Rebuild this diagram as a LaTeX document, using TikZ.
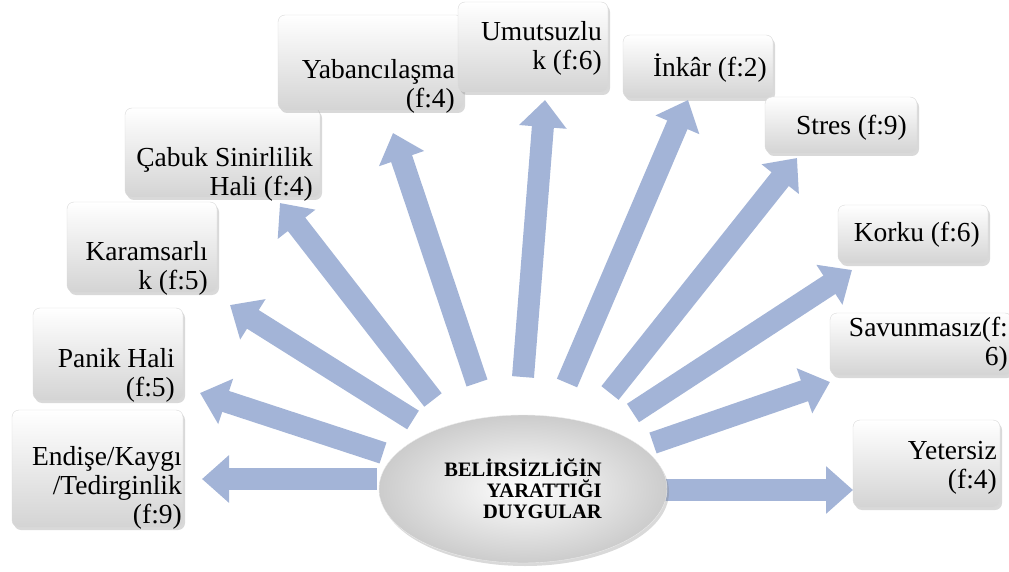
\documentclass[tikz,border=0pt]{standalone}
\usepackage{fontspec}
\setmainfont{Liberation Serif}
\usetikzlibrary{arrows.meta, shadows, shapes.geometric}

\definecolor{arrowblue}{RGB}{163,180,215}
\definecolor{boxgray}{RGB}{212,212,212}

\tikzset{
  box/.style={rectangle, rounded corners=7pt, draw=black!15, top color=white, bottom color=boxgray,
    drop shadow={opacity=0.3, shadow xshift=2pt, shadow yshift=-3pt}, inner sep=0pt},
  lbl/.style={anchor=east, inner sep=0pt, align=right, font=\fontsize{27.5}{29}\selectfont},
  blockarrow/.style={draw=arrowblue, line width=22pt, -{Triangle[width=46pt, length=27pt]}},
}

\begin{document}
\begin{tikzpicture}[x=1pt, y=-1pt]
  \useasboundingbox (0,0) rectangle (1009,572);

  % the eleven boxes
  \node (endise)   [box, minimum width=171pt, minimum height=117pt] at (97.5,468.5) {};
  \node (panik)    [box, minimum width=150pt, minimum height=92pt]  at (108,354) {};
  \node (karamsar) [box, minimum width=150pt, minimum height=90pt]  at (142,247) {};
  \node (cabuk)    [box, minimum width=195pt, minimum height=89pt]  at (222.5,152.5) {};
  \node (yabanci)  [box, minimum width=185pt, minimum height=95pt]  at (370.5,62.5) {};
  \node (umutsuz)  [box, minimum width=150pt, minimum height=90pt]  at (533,47) {};
  \node (inkar)    [box, minimum width=150pt, minimum height=63pt]  at (698,66.5) {};
  \node (stres)    [box, minimum width=152pt, minimum height=56pt]  at (841,125) {};
  \node (korku)    [box, minimum width=150pt, minimum height=58pt]  at (913,234) {};
  \node (savunma)  [box, minimum width=182pt, minimum height=62pt]  at (921,344) {};
  \node (yetersiz) [box, minimum width=147pt, minimum height=87pt]  at (926.5,463.5) {};

  % their texts
  \node (endise-txt)   [lbl] at (182,488)   {Endişe/Kaygı\\/Tedirginlik\\(f:9)};
  \node (panik-txt)    [lbl] at (175,375)   {Panik Hali\\(f:5)};
  \node (karamsar-txt) [lbl] at (208,268)   {Karamsarlı\\k (f:5)};
  \node (cabuk-txt)    [lbl] at (313,174)   {Çabuk Sinirlilik\\Hali (f:4)};
  \node (yabanci-txt)  [lbl] at (455,86)    {Yabancılaşma\\(f:4)};
  \node (umutsuz-txt)  [lbl] at (602,48)    {Umutsuzlu\\k (f:6)};
  \node (inkar-txt)    [lbl] at (767,68.5)  {İnkâr (f:2)};
  \node (stres-txt)    [lbl] at (907,127.5) {Stres (f:9)};
  \node (korku-txt)    [lbl] at (980,235)   {Korku (f:6)};
  \node (savunma-txt)  [lbl] at (1008,344)  {Savunmasız(f:\\6)};
  \node (yetersiz-txt) [lbl] at (997,467.5) {Yetersiz\\(f:4)};

  % tails and tips of the arrows
  \coordinate (endise-a)   at (377,479);  \coordinate (endise-b)   at (202,479);
  \coordinate (panik-a)    at (383,453);  \coordinate (panik-b)    at (200,393);
  \coordinate (karamsar-a) at (413,420);  \coordinate (karamsar-b) at (230,305);
  \coordinate (cabuk-a)    at (433,400);  \coordinate (cabuk-b)    at (280,203);
  \coordinate (yabanci-a)  at (477,383);  \coordinate (yabanci-b)  at (393,133);
  \coordinate (umutsuz-a)  at (523,377);  \coordinate (umutsuz-b)  at (545,100);
  \coordinate (inkar-a)    at (567,383);  \coordinate (inkar-b)    at (688,100);
  \coordinate (stres-a)    at (610,393);  \coordinate (stres-b)    at (797,158);
  \coordinate (korku-a)    at (633,413);  \coordinate (korku-b)    at (852,270);
  \coordinate (savunma-a)  at (653,443);  \coordinate (savunma-b)  at (830,382);
  \coordinate (yetersiz-a) at (665,490);  \coordinate (yetersiz-b) at (853,490);

  \draw [blockarrow] (endise-a) -- (endise-b);
  \draw [blockarrow] (panik-a) -- (panik-b);
  \draw [blockarrow] (karamsar-a) -- (karamsar-b);
  \draw [blockarrow] (cabuk-a) -- (cabuk-b);
  \draw [blockarrow] (yabanci-a) -- (yabanci-b);
  \draw [blockarrow] (umutsuz-a) -- (umutsuz-b);
  \draw [blockarrow] (inkar-a) -- (inkar-b);
  \draw [blockarrow] (stres-a) -- (stres-b);
  \draw [blockarrow] (korku-a) -- (korku-b);
  \draw [blockarrow] (savunma-a) -- (savunma-b);
  \draw [blockarrow] (yetersiz-a) -- (yetersiz-b);

  % the hub
  \node (hub) [ellipse, minimum width=288pt, minimum height=148pt, inner sep=0pt,
    inner color=white, outer color=black!20, draw=black!8,
    drop shadow={opacity=0.3, shadow xshift=2pt, shadow yshift=-3pt},
    align=right, font=\bfseries\fontsize{20.5}{21}\selectfont] at (523,489)
    {BELİRSİZLİĞİN\\YARATTIĞI\\DUYGULAR};
\end{tikzpicture}
\end{document}
